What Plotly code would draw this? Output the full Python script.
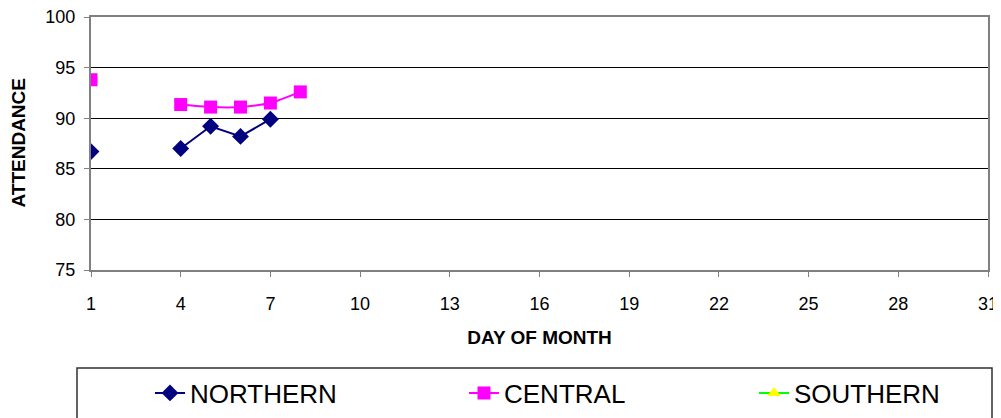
import plotly.graph_objects as go

days = list(range(1, 32))
northern_days = [1, 2, 3, 4, 5, 6, 7]
northern_vals = [86.7, None, None, 87.0, 89.2, 88.2, 89.9]
central_days = [1, 2, 3, 4, 5, 6, 7, 8]
central_vals = [93.8, None, None, 91.35, 91.1, 91.1, 91.5, 92.6]
southern_days = []
southern_vals = []
x_ticks = [1, 4, 7, 10, 13, 16, 19, 22, 25, 28, 31]
y_ticks = [75, 80, 85, 90, 95, 100]

FONT = "Liberation Sans, Arial, sans-serif"
W, H = 993, 410          # page has an 8px body margin
PL, PR, PT, PB = 83, 980, 9, 262   # plot area in figure pixels
PW, PH = PR - PL, PB - PT

fig = go.Figure()
fig.add_trace(go.Scatter(
    x=northern_days, y=northern_vals, name="NORTHERN", mode="lines+markers",
    line=dict(color="#000080", width=2),
    marker=dict(symbol="diamond", size=13, color="#000080"),
    connectgaps=False, legend="legend"))
fig.add_trace(go.Scatter(
    x=central_days, y=central_vals, name="CENTRAL", mode="lines+markers",
    line=dict(color="#FF00FF", width=2, shape="spline", smoothing=0.6),
    marker=dict(symbol="square", size=13, color="#FF00FF"),
    connectgaps=False, legend="legend2"))
fig.add_trace(go.Scatter(
    x=southern_days if southern_days else [None],
    y=southern_vals if southern_vals else [None],
    name="SOUTHERN", mode="lines+markers",
    line=dict(color="#00FF00", width=2),
    marker=dict(symbol="triangle-up", size=12, color="#FFFF00"),
    legend="legend3"))

def leg(xpx):
    return dict(xref="container", yref="container",
                x=xpx / W, y=(H - 385) / H, xanchor="left", yanchor="middle",
                font=dict(size=26, family=FONT, color="black"),
                bgcolor="rgba(0,0,0,0)", borderwidth=0)

fig.update_layout(
    width=W, height=H,
    margin=dict(l=PL, r=W - PR, t=PT, b=H - PB, autoexpand=False),
    paper_bgcolor="white", plot_bgcolor="white",
    font=dict(family=FONT, color="black"),
    xaxis=dict(
        range=[1, 31], tickvals=x_ticks, ticktext=[str(v) for v in x_ticks],
        showgrid=False, zeroline=False, automargin=True,
        ticklabeloverflow="allow",
        showline=True, linecolor="#808080", linewidth=2, mirror=True,
        ticks="outside", ticklen=5, tickcolor="#808080",
        tickfont=dict(size=18), ticklabelstandoff=11,
        title=dict(text="<b>DAY OF MONTH</b>", font=dict(size=19), standoff=18)),
    yaxis=dict(
        range=[75, 100], tickvals=y_ticks,
        showgrid=True, gridcolor="black", gridwidth=1, zeroline=False,
        automargin=True, ticklabeloverflow="allow",
        showline=True, linecolor="#808080", linewidth=2, mirror=True,
        ticks="outside", ticklen=5, tickcolor="#808080",
        tickfont=dict(size=18), ticklabelstandoff=5),
    annotations=[
        dict(text="<b>ATTENDANCE</b>", xref="paper", yref="paper",
             x=(10 - PL) / PW, y=0.5, xanchor="center", yanchor="middle",
             textangle=-90, showarrow=False, font=dict(size=19, family=FONT)),
    ],
    showlegend=True,
    legend=leg(142), legend2=leg(456), legend3=leg(746),
    shapes=[
        dict(type="rect", xref="paper", yref="paper",
             x0=(69 - PL) / PW, x1=(984 - PL) / PW,
             y0=(PB - 425) / PH, y1=(PB - 360) / PH,
             line=dict(color="#303030", width=1.5), fillcolor="rgba(0,0,0,0)"),
    ],
)

fig.write_html("out.html")
